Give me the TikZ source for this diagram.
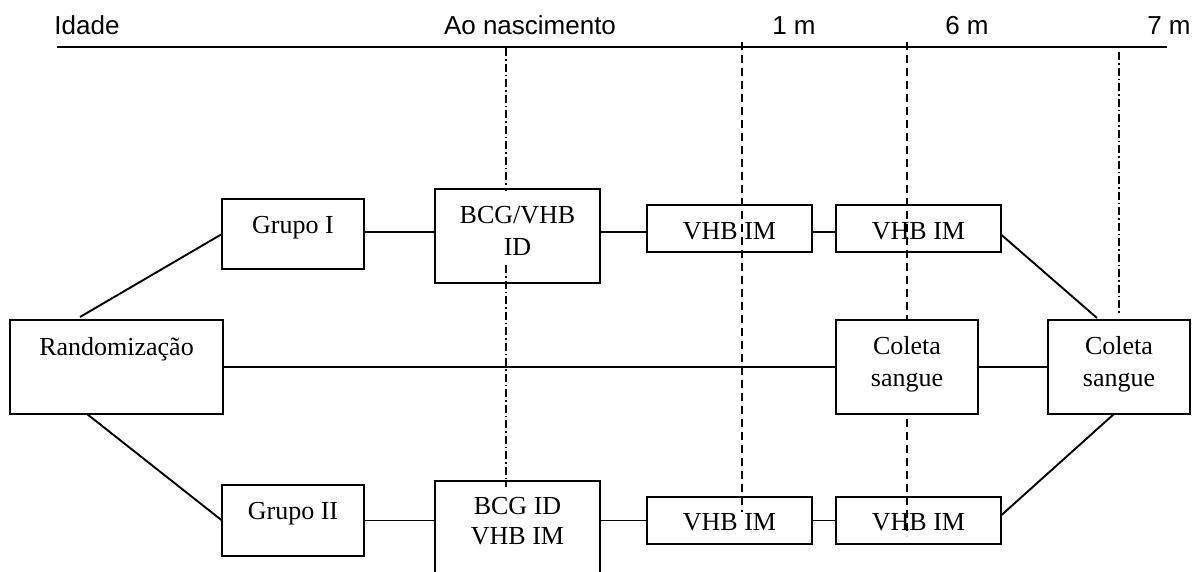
\documentclass[tikz,border=0pt]{standalone}
\usepackage{fontspec}
\setmainfont{Liberation Serif}
\newfontfamily\labsans{Liberation Sans}
\usetikzlibrary{calc}
\begin{document}
\begin{tikzpicture}[x=1pt,y=-1pt,
  box/.style={draw, line width=1.9pt, inner sep=0pt, outer sep=0pt},
  conn/.style={line width=1.9pt},
  stxt/.style={font=\fontsize{26}{30}\selectfont, inner sep=0pt, anchor=base},
  atxt/.style={font=\labsans\fontsize{26}{30}\selectfont, inner sep=0pt, anchor=base},
  dashln/.style={line width=1.6pt, dash pattern=on 8pt off 5pt},
  dashdotln/.style={line width=1.6pt, dash pattern=on 8pt off 3pt on 1.5pt off 3pt}]
\clip (0,0) rectangle (1192,571);
\fill[white] (0,0) rectangle (1192,571);

% time axis
\coordinate (axL) at (57,47);
\coordinate (axR) at (1167,47);
\draw[line width=2pt] (axL) -- (axR);
\node[atxt] (lIdade) at (87,34) {Idade};
\node[atxt] (lAo) at (530,34) {Ao nascimento};
\node[atxt] (l1m) at (794,34) {1 m};
\node[atxt] (l6m) at (967,34) {6 m};
\node[atxt] (l7m) at (1169,34) {7 m};

% time markers (drawn first, boxes may cover them)
\coordinate (m0t) at (506,48);  \coordinate (m0b) at (506,487);
\coordinate (m1t) at (742,42);  \coordinate (m1b) at (742,512);
\coordinate (m2t) at (907,42);  \coordinate (m2b) at (907,536);
\coordinate (m3t) at (1119,52); \coordinate (m3b) at (1119,313);
\draw[dashdotln] (m0t) -- (m0b);
\draw[dashln] (m1t) -- (m1b);
\draw[dashln] (m2t) -- (m2b);
\draw[dashdotln] (m3t) -- (m3b);

% boxes
\node[box, minimum width=213pt, minimum height=94pt] (rand) at (116.5,367) {};
\node[box, minimum width=142pt, minimum height=70pt] (g1) at (293,234) {};
\node[box, minimum width=165pt, minimum height=94pt] (bcg1) at (517.5,236) {};
\fill[white] ($(bcg1.north west)+(2,2)$) rectangle ($(bcg1.north east)+(-2,73)$);
\node[box, minimum width=165pt, minimum height=47pt] (vhb1) at (729.5,228.5) {};
\node[box, minimum width=165pt, minimum height=47pt] (vhb2) at (918.5,228.5) {};
\node[box, fill=white, minimum width=142pt, minimum height=94pt] (col1) at (907,367) {};
\node[box, minimum width=142pt, minimum height=94pt] (col2) at (1119,367) {};
\node[box, minimum width=142pt, minimum height=71pt] (g2) at (293,520.5) {};
\node[box, minimum width=165pt, minimum height=120pt] (bcg2) at (517.5,541) {};
\node[box, minimum width=165pt, minimum height=47pt] (vhb3) at (729.5,520.5) {};
\node[box, minimum width=165pt, minimum height=47pt] (vhb4) at (918.5,520.5) {};

% texts
\node[stxt] (tRand) at (116.5,355) {Randomização};
\node[stxt] (tG1) at (293,233) {Grupo I};
\node[stxt] (tB1a) at (517.5,223) {BCG/VHB};
\node[stxt] (tB1b) at (517.5,255) {ID};
\node[stxt] (tV1) at (729.5,239) {VHB IM};
\node[stxt] (tV2) at (918.5,239) {VHB IM};
\node[stxt] (tC1a) at (907,354) {Coleta};
\node[stxt] (tC1b) at (907,386) {sangue};
\node[stxt] (tC2a) at (1119,354) {Coleta};
\node[stxt] (tC2b) at (1119,386) {sangue};
\node[stxt] (tG2) at (293,519) {Grupo II};
\node[stxt] (tB2a) at (517.5,514) {BCG ID};
\node[stxt] (tB2b) at (517.5,544) {VHB IM};
\node[stxt] (tV3) at (729.5,530) {VHB IM};
\node[stxt] (tV4) at (918.5,530) {VHB IM};

% connectors
\draw[conn] ($(rand.north west)+(70,-3)$) -- (g1.west);
\draw[conn] ($(rand.south west)+(77,0)$) -- (g2.west);
\draw[conn] (rand.east) -- (col1.west);
\coordinate (row1) at (0,232);
\draw[conn] (g1.east |- row1) -- (bcg1.west |- row1);
\draw[conn] (bcg1.east |- row1) -- (vhb1.west |- row1);
\draw[conn] (vhb1.east |- row1) -- (vhb2.west |- row1);
\draw[conn] ($(vhb2.east)+(0,6)$) -- ($(col2.north)+(-22,-2)$);
\draw[conn] (col1.east) -- (col2.west);
\draw[conn] ($(col2.south)+(-5,0)$) -- ($(vhb4.east)+(0,-5)$);
\draw[conn] (g2.east) -- (bcg2.west |- g2.east);
\draw[conn] (bcg2.east |- g2.east) -- (vhb3.west |- g2.east);
\draw[conn] (vhb3.east) -- (vhb4.west);
\end{tikzpicture}
\end{document}
